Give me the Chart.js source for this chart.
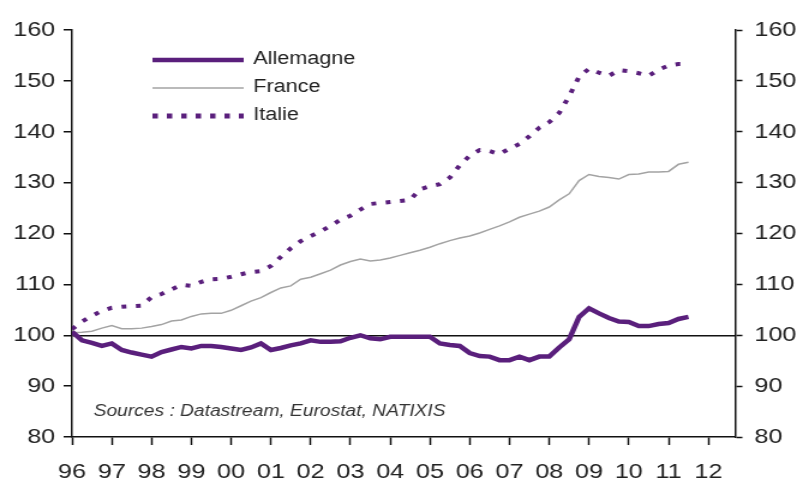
<!DOCTYPE html>
<html>
<head>
<meta charset="utf-8">
<script src="https://cdn.jsdelivr.net/npm/chart.js@4"></script>
<style>
  html, body { margin: 0; padding: 0; background: #fff; overflow: hidden; }
  /* the reference is horizontally stretched, so draw narrow and widen */
  #wrap { width: 669px; height: 485px; transform: scaleX(1.2003); transform-origin: 0 0; }
</style>
</head>
<body>
<div id="wrap"><canvas id="chart"></canvas></div>
<script>
const years = [1996, 1997, 1998, 1999, 2000, 2001, 2002, 2003, 2004, 2005, 2006, 2007, 2008, 2009, 2010, 2011, 2012];
const yTicks = [80, 90, 100, 110, 120, 130, 140, 150, 160];

const quarters = [
  1996.00, 1996.25, 1996.50, 1996.75, 1997.00, 1997.25, 1997.50, 1997.75,
  1998.00, 1998.25, 1998.50, 1998.75, 1999.00, 1999.25, 1999.50, 1999.75,
  2000.00, 2000.25, 2000.50, 2000.75, 2001.00, 2001.25, 2001.50, 2001.75,
  2002.00, 2002.25, 2002.50, 2002.75, 2003.00, 2003.25, 2003.50, 2003.75,
  2004.00, 2004.25, 2004.50, 2004.75, 2005.00, 2005.25, 2005.50, 2005.75,
  2006.00, 2006.25, 2006.50, 2006.75, 2007.00, 2007.25, 2007.50, 2007.75,
  2008.00, 2008.25, 2008.50, 2008.75, 2009.00, 2009.25, 2009.50, 2009.75,
  2010.00, 2010.25, 2010.50, 2010.75, 2011.00, 2011.25, 2011.50
];

const allemagne = [
  100.7, 99.0, 98.5, 97.9, 98.4, 97.1, 96.6, 96.2,
  95.8, 96.7, 97.2, 97.7, 97.4, 97.9, 97.9, 97.7,
  97.4, 97.1, 97.6, 98.4, 97.1, 97.5, 98.0, 98.4,
  99.0, 98.7, 98.7, 98.8, 99.5, 100.0, 99.4, 99.2,
  99.7, 99.7, 99.7, 99.7, 99.7, 98.4, 98.1, 97.9,
  96.5, 95.9, 95.8, 95.1, 95.1, 95.8, 95.1, 95.8,
  95.8, 97.6, 99.2, 103.6, 105.3, 104.3, 103.4, 102.7,
  102.6, 101.8, 101.8, 102.2, 102.4, 103.2, 103.6
];

const france = [
  100.5, 100.6, 100.8, 101.4, 101.9, 101.3, 101.3, 101.4,
  101.7, 102.1, 102.8, 103.0, 103.7, 104.2, 104.3, 104.3,
  104.9, 105.8, 106.7, 107.4, 108.4, 109.3, 109.7, 111.0,
  111.4, 112.1, 112.8, 113.8, 114.5, 115.0, 114.6, 114.8,
  115.2, 115.7, 116.2, 116.7, 117.3, 118.0, 118.6, 119.1,
  119.5, 120.1, 120.8, 121.5, 122.3, 123.2, 123.8, 124.4,
  125.2, 126.6, 127.8, 130.4, 131.6, 131.2, 131.0, 130.7,
  131.6, 131.7, 132.1, 132.1, 132.2, 133.6, 134.0
];

const italie = [
  101.2, 102.7, 103.8, 104.8, 105.4, 105.6, 105.7, 105.8,
  107.5, 108.1, 109.0, 109.9, 109.7, 110.5, 111.0, 111.1,
  111.5, 112.0, 112.4, 112.6, 113.6, 115.4, 117.1, 118.5,
  119.5, 120.4, 121.5, 122.7, 123.5, 124.7, 125.8, 126.0,
  126.2, 126.4, 126.6, 128.7, 129.3, 129.7, 131.0, 133.4,
  135.3, 136.4, 136.2, 135.6, 136.7, 137.6, 139.1, 140.8,
  141.9, 143.7, 147.0, 150.8, 152.4, 151.6, 151.0, 152.1,
  151.9, 151.5, 151.0, 152.2, 153.0, 153.3, 153.3
];

const purple = '#5a1f7c';
const grey = '#a3a3a3';
const font = "'Liberation Sans', Arial, sans-serif";

const toPoints = vals => vals.map((v, i) => ({ x: quarters[i], y: v }));

// legend + source note drawn inside the plot area
const overlay = {
  id: 'overlay',
  afterDraw(chart) {
    const ctx = chart.ctx;
    ctx.save();
    const items = [
      { label: 'Allemagne', color: purple, width: 4.5, dash: [], y: 60 },
      { label: 'France', color: grey, width: 1.5, dash: [], y: 88 },
      { label: 'Italie', color: purple, width: 5, dash: [4.5, 7.5], y: 116 }
    ];
    items.forEach(it => {
      ctx.beginPath();
      ctx.strokeStyle = it.color;
      ctx.lineWidth = it.width;
      ctx.setLineDash(it.dash);
      ctx.moveTo(127, it.y);
      ctx.lineTo(203, it.y);
      ctx.stroke();
      ctx.setLineDash([]);
      ctx.fillStyle = '#222';
      ctx.font = '18px ' + font;
      ctx.textBaseline = 'middle';
      ctx.fillText(it.label, 211, it.y - 1);
    });
    ctx.fillStyle = '#333';
    ctx.font = 'italic 16px ' + font;
    ctx.textBaseline = 'middle';
    ctx.fillText('Sources : Datastream, Eurostat, NATIXIS', 78, 412);
    ctx.restore();
  }
};

const tickFont = { family: font, size: 21 };

new Chart(document.getElementById('chart'), {
  type: 'line',
  data: {
    datasets: [
      { label: 'Allemagne', data: toPoints(allemagne), borderColor: purple, borderWidth: 4.5, pointRadius: 0, tension: 0 },
      { label: 'France', data: toPoints(france), borderColor: grey, borderWidth: 1.5, pointRadius: 0, tension: 0 },
      { label: 'Italie', data: toPoints(italie), borderColor: purple, borderWidth: 4, borderDash: [4, 8], pointRadius: 0, tension: 0 }
    ]
  },
  options: {
    responsive: true,
    maintainAspectRatio: false,
    animation: false,
    devicePixelRatio: 1,
    layout: { padding: { top: 30, left: 0, right: 0, bottom: 0 } },
    plugins: { legend: { display: false }, tooltip: { enabled: false } },
    scales: {
      x: {
        type: 'linear',
        min: 1996,
        max: 2012.675,
        afterBuildTicks: scale => { scale.ticks = years.map(v => ({ value: v })); },
        afterFit: scale => { scale.height = 48; },
        ticks: {
          font: tickFont, color: '#222', padding: 15, maxRotation: 0, autoSkip: false,
          callback: v => String(v % 100).padStart(2, '0')
        },
        grid: { drawOnChartArea: false, tickLength: 8, tickColor: '#111', tickWidth: 1.5 },
        border: { display: true, color: '#111', width: 1.5 }
      },
      y: {
        position: 'left',
        min: 80, max: 160,
        afterBuildTicks: scale => { scale.ticks = yTicks.map(v => ({ value: v })); },
        afterFit: scale => { scale.width = 60; },
        ticks: { font: tickFont, color: '#222', padding: 7 },
        grid: {
          color: c => (c.tick && c.tick.value === 100 ? '#111' : 'rgba(0,0,0,0)'),
          lineWidth: 1.5,
          tickColor: '#111', tickWidth: 1.5, tickLength: 7
        },
        border: { display: true, color: '#111', width: 1.5 }
      },
      y2: {
        position: 'right',
        min: 80, max: 160,
        afterBuildTicks: scale => { scale.ticks = yTicks.map(v => ({ value: v })); },
        afterFit: scale => { scale.width = 56.5; },
        ticks: { font: tickFont, color: '#222', padding: 10 },
        grid: { drawOnChartArea: false, tickColor: '#111', tickWidth: 1.5, tickLength: 6 },
        border: { display: true, color: '#111', width: 1.5 }
      }
    }
  },
  plugins: [overlay]
});
</script>
</body>
</html>
